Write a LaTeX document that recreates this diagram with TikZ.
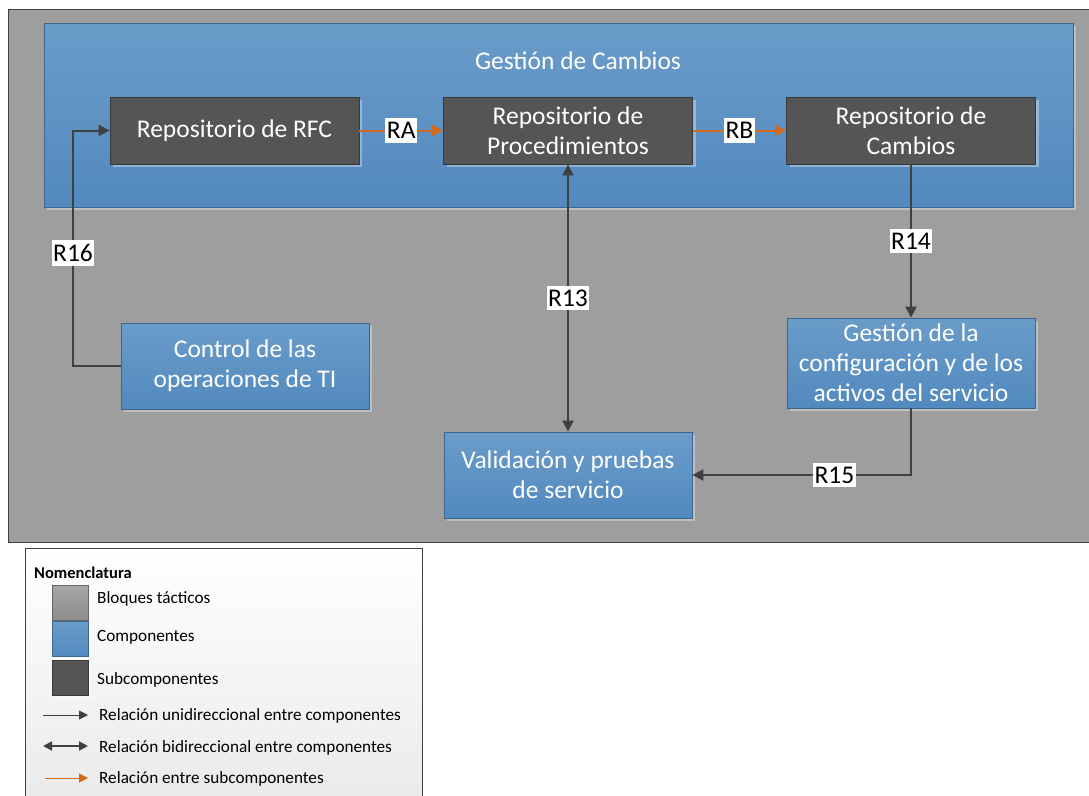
\documentclass[tikz,border=0pt]{standalone}
\usepackage{fontspec}
\setmainfont{Carlito}
\usetikzlibrary{arrows.meta,shadows,positioning}
\definecolor{blockgray}{HTML}{9E9E9E}
\definecolor{paneltop}{HTML}{6A9CC9}
\definecolor{panelbot}{HTML}{5289BE}
\definecolor{compborder}{HTML}{3C6690}
\definecolor{subfill}{HTML}{555555}
\definecolor{subborder}{HTML}{3A3A3A}
\definecolor{linkdark}{HTML}{404040}
\definecolor{linkorange}{HTML}{D2691E}
\tikzset{
  x=1pt, y=-1pt,
  softshadow/.style={drop shadow={shadow xshift=3pt, shadow yshift=-3pt, fill=white, opacity=0.35}},
  subbox/.style={draw=subborder, line width=0.8pt, fill=subfill, text=white, softshadow,
    minimum width=249pt, minimum height=67pt, align=center, font=\fontsize{25.5}{30}\selectfont, inner sep=0pt},
  compbox/.style={draw=compborder, line width=0.8pt, shading=axis, top color=paneltop, bottom color=panelbot,
    text=white, softshadow, align=center, font=\fontsize{25.5}{30}\selectfont, inner sep=0pt},
  rellabel/.style={fill=white, text=black, inner xsep=1.5pt, inner ysep=4pt, font=\fontsize{25.5}{28}\selectfont},
  uni/.style={draw=linkdark, line width=2pt, -{Triangle[length=11pt,width=11pt]}},
  bi/.style={draw=linkdark, line width=2pt, {Triangle[length=11pt,width=11pt]}-{Triangle[length=11pt,width=11pt]}},
  sub/.style={draw=linkorange, line width=2pt, -{Triangle[length=11pt,width=11pt]}},
  legtext/.style={anchor=west, inner sep=0pt, font=\fontsize{17.2}{20}\selectfont},
  legsq/.style={minimum width=36pt, minimum height=35pt, inner sep=0pt, line width=0.8pt, softshadow},
}
\begin{document}
\begin{tikzpicture}
\useasboundingbox (0,0) rectangle (1089,795);
\fill[white] (0,0) rectangle (1089,795);

% tactical block and the change management component
\node[draw=linkdark, line width=0.8pt, fill=blockgray, minimum width=1081pt, minimum height=533pt,
  inner sep=0pt, anchor=north west] (block) at (8,9) {};
\node[draw=compborder, line width=0.8pt, shading=axis, top color=paneltop, bottom color=panelbot,
  softshadow, minimum width=1029pt, minimum height=184pt, inner sep=0pt, anchor=north west] (gc) at (44,23) {};
\node[text=white, font=\fontsize{25.5}{30}\selectfont] (gctitle) at (578,61) {Gestión de Cambios};

% subcomponents
\node[subbox] (rfc) at (234.5,130.5) {Repositorio de RFC};
\node[subbox] (proc) at (568,130.5) {Repositorio de\\Procedimientos};
\node[subbox] (camb) at (911,130.5) {Repositorio de\\Cambios};

% components
\node[compbox, minimum width=248pt, minimum height=86pt] (ctrl) at (245,366) {Control de las\\operaciones de TI};
\node[compbox, minimum width=248pt, minimum height=90pt] (conf) at (911,363) {Gestión de la\\configuración y de los\\activos del servicio};
\node[compbox, minimum width=248pt, minimum height=86pt] (val) at (568,475) {Validación y pruebas\\de servicio};

% relations
\coordinate (r16a) at (73,366);
\coordinate (r16b) at (73,130.5);
\draw[uni] (ctrl.west) -- (r16a) -- node[rellabel, pos=0.48] {R16} (r16b) -- (rfc.west);
\draw[sub] (rfc.east) -- node[rellabel] {RA} (proc.west);
\draw[sub] (proc.east) -- node[rellabel] {RB} (camb.west);
\draw[uni] (camb.south) -- node[rellabel, pos=0.5] {R14} (conf.north);
\draw[bi] (proc.south) -- node[rellabel, pos=0.5] {R13} (val.north);
\coordinate (r15a) at (911,475);
\draw[uni] (conf.south) -- (r15a) -- node[rellabel, pos=0.35] {R15} (val.east);

% legend
\node[draw=linkdark, line width=0.8pt, shading=axis, top color=white, bottom color=black!8,
  minimum width=397pt, minimum height=250pt, inner sep=0pt, anchor=north west] (legend) at (25,548) {};
\node[anchor=west, inner sep=0pt, font=\bfseries\fontsize{16.5}{18}\selectfont] (legtitle) at (34,573) {Nomenclatura};
\node[legsq, draw=gray!80!black, shading=axis, top color=black!35, bottom color=black!45] (sq1) at (70,603) {};
\node[legsq, draw=compborder, shading=axis, top color=paneltop, bottom color=panelbot] (sq2) at (70,639) {};
\node[legsq, draw=subborder, fill=subfill] (sq3) at (70,678) {};
\node[legtext] (t1) at (97,599) {Bloques tácticos};
\node[legtext] (t2) at (97,637) {Componentes};
\node[legtext] (t3) at (97,680) {Subcomponentes};
\coordinate (a1s) at (43,715); \coordinate (a1e) at (88,715);
\coordinate (a2s) at (43,746); \coordinate (a2e) at (88,746);
\coordinate (a3s) at (45,778); \coordinate (a3e) at (88,778);
\draw[draw=linkdark, line width=1pt, -{Triangle[length=9pt,width=9pt]}] (a1s) -- (a1e);
\draw[draw=linkdark, line width=2pt, {Triangle[length=9pt,width=9pt]}-{Triangle[length=9pt,width=9pt]}] (a2s) -- (a2e);
\draw[draw=linkorange, line width=1pt, -{Triangle[length=9pt,width=9pt]}] (a3s) -- (a3e);
\node[legtext] (t4) at (99,716) {Relación unidireccional entre componentes};
\node[legtext] (t5) at (99,748) {Relación bidireccional entre componentes};
\node[legtext] (t6) at (99,779) {Relación entre subcomponentes};
\end{tikzpicture}
\end{document}
